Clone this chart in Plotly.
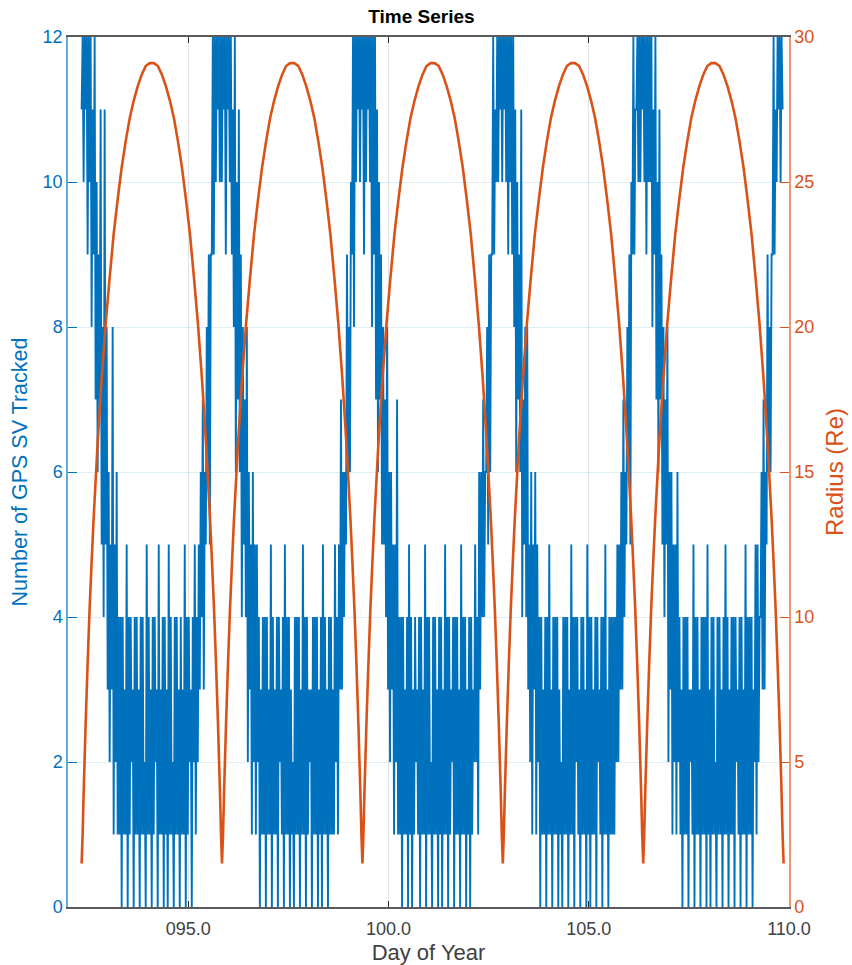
import plotly.graph_objects as go

# ---------------- data ----------------
# GPS SV count, sampled every 0.025 day from day 92.34 (one list per orbit, perigee to perigee)
gps_start_day = 92.34
gps_step_day = 0.025

gps_orbit1 = [11,12, 10,12, 11,12, 9,12,
              10,12, 8,11, 9,12,
              7,10, 6,9, 7,11,
              5,8, 4,11, 5,8,
              3,6, 2,5, 3,8, 1,5, 2,6, 1,4,
              1,4, 0,4, 1,3, 1,5, 0,4, 1,4, 2,3, 0,4, 1,4, 1,3,
              0,4, 1,4, 1,2, 0,5, 1,4, 1,3, 0,4, 1,4, 2,3, 0,5,
              1,3, 1,4, 0,4, 1,3, 0,5, 1,4, 1,2, 0,4, 1,4, 1,3,
              0,4, 1,3, 1,5, 0,4, 1,4, 2,3, 0,4,
              2,5, 1,4, 2,5,
              3,6, 4,7, 3,6,
              5,8, 6,9, 5,9,
              9,12, 9,12,
              10,12, 11,12, 10,12]
gps_orbit2 = [10,12, 11,12, 9,12, 11,12,
              10,12, 9,11, 8,12,
              6,10, 7,11, 6,9,
              4,8, 5,7, 4,8,
              2,6, 3,5, 1,6, 2,5, 1,5, 2,4,
              0,3, 1,4, 1,4, 0,4, 1,3, 1,5, 0,4, 1,3, 1,4, 0,4,
              2,3, 1,4, 0,5, 1,4, 1,4, 0,3, 1,2, 0,4, 1,4, 1,4,
              0,3, 1,5, 1,4, 0,4, 1,3, 2,3, 0,4, 1,4, 1,4, 0,3,
              1,4, 0,5, 1,4, 1,3, 0,4, 1,4, 1,3,
              1,5, 2,4, 1,5,
              3,7, 3,6, 4,6,
              5,9, 6,8, 6,10,
              9,12, 8,12,
              10,12, 11,12, 10,12]
gps_orbit3 = [11,12, 9,12, 10,12, 11,12,
              10,12, 8,12, 9,12,
              7,11, 6,10, 7,9,
              5,8, 5,7, 4,8,
              3,6, 2,6, 3,5, 1,5, 2,7, 1,4,
              1,4, 0,4, 1,3, 1,4, 0,5, 1,4, 0,3, 1,4, 2,3, 1,4,
              0,4, 1,3, 1,5, 0,4, 1,4, 1,2, 0,4, 1,4, 1,3, 0,4,
              1,4, 0,3, 1,5, 1,4, 0,4, 1,3, 2,4, 0,4, 1,4, 1,3,
              0,5, 1,4, 1,4, 0,3, 1,4, 0,4, 1,3,
              2,5, 2,4, 1,6,
              3,6, 4,7, 4,6,
              6,8, 5,9, 6,9,
              9,12, 9,11,
              10,12, 10,12, 11,12]
gps_orbit4 = [10,12, 11,12, 10,12, 9,12,
              10,12, 9,12, 8,11,
              6,10, 7,9, 6,11,
              4,7, 5,8, 4,8,
              3,5, 2,6, 1,5, 3,6, 1,5, 2,4,
              0,4, 1,3, 1,4, 0,4, 1,5, 1,3, 0,4, 1,4, 1,4, 0,3,
              1,2, 0,4, 1,4, 1,4, 0,3, 1,5, 1,4, 0,4, 2,4, 1,3,
              0,4, 1,4, 1,3, 0,5, 1,4, 0,4, 1,3, 1,4, 0,4, 2,3,
              1,4, 0,4, 1,5, 1,3, 0,4, 1,4, 1,4,
              1,4, 2,5, 2,5,
              3,6, 3,7, 4,6,
              5,8, 6,9, 5,10,
              9,12, 9,11,
              11,12, 10,12, 10,12]
gps_orbit5 = [11,12, 10,12, 9,12, 10,12,
              10,12, 8,11, 9,12,
              7,10, 6,11, 7,9,
              5,8, 4,7, 5,8,
              2,6, 3,6, 1,5, 2,5, 1,6, 2,4,
              1,3, 0,4, 1,4, 1,4, 0,3, 2,3, 1,5, 0,4, 1,4, 1,3,
              0,4, 1,4, 1,4, 0,5, 1,3, 0,4, 1,4, 1,2, 0,4, 1,4,
              1,3, 0,4, 1,5, 1,4, 0,3, 1,4, 1,4, 0,4, 2,3, 1,4,
              0,4, 1,3, 1,5, 0,4, 1,4, 1,4, 0,3,
              2,5, 1,5, 2,4,
              4,6, 3,7, 3,6,
              5,9, 6,8, 6,9,
              9,12, 9,11,
              10,12, 11,12, 10,12,
              11]

# Orbit radius (Re): perigee days, sample times within each orbit (days after perigee),
# and the radius read at those times for each orbit
perigee_days = [92.34, 95.845, 99.35, 102.855, 106.36]
orbit_phase_days = [0.0, 0.025, 0.05, 0.1, 0.15, 0.2, 0.25, 0.3, 0.4, 0.5, 0.6, 0.7, 0.8, 0.9,
                    1.0, 1.1, 1.2, 1.3, 1.4, 1.5, 1.6, 1.7, 1.7525,
                    1.805, 1.905, 2.005, 2.105, 2.205, 2.305, 2.405, 2.505, 2.605, 2.705, 2.805,
                    2.905, 3.005, 3.105, 3.205, 3.255, 3.305, 3.355, 3.405, 3.455, 3.48]
radius_orbit1 = [1.5, 2.5, 3.9, 6.3, 8.4, 10.3, 11.9, 13.4, 16.0, 18.2, 20.1, 21.7, 23.2, 24.4,
                 25.5, 26.4, 27.2, 27.8, 28.3, 28.7, 29.0, 29.1, 29.1,
                 29.1, 29.0, 28.7, 28.3, 27.8, 27.2, 26.4, 25.5, 24.4, 23.2, 21.7,
                 20.1, 18.2, 16.0, 13.4, 11.9, 10.3, 8.4, 6.3, 3.9, 2.5]
radius_orbit2 = [1.5, 2.5, 3.9, 6.3, 8.4, 10.3, 11.9, 13.4, 16.0, 18.2, 20.1, 21.7, 23.2, 24.4,
                 25.5, 26.4, 27.2, 27.8, 28.3, 28.7, 29.0, 29.1, 29.1,
                 29.1, 29.0, 28.7, 28.3, 27.8, 27.2, 26.4, 25.5, 24.4, 23.2, 21.7,
                 20.1, 18.2, 16.0, 13.4, 11.9, 10.3, 8.4, 6.3, 3.9, 2.5]
radius_orbit3 = [1.5, 2.5, 3.9, 6.3, 8.4, 10.3, 11.9, 13.4, 16.0, 18.2, 20.1, 21.7, 23.2, 24.4,
                 25.5, 26.4, 27.2, 27.8, 28.3, 28.7, 29.0, 29.1, 29.1,
                 29.1, 29.0, 28.7, 28.3, 27.8, 27.2, 26.4, 25.5, 24.4, 23.2, 21.7,
                 20.1, 18.2, 16.0, 13.4, 11.9, 10.3, 8.4, 6.3, 3.9, 2.5]
radius_orbit4 = [1.5, 2.5, 3.9, 6.3, 8.4, 10.3, 11.9, 13.4, 16.0, 18.2, 20.1, 21.7, 23.2, 24.4,
                 25.5, 26.4, 27.2, 27.8, 28.3, 28.7, 29.0, 29.1, 29.1,
                 29.1, 29.0, 28.7, 28.3, 27.8, 27.2, 26.4, 25.5, 24.4, 23.2, 21.7,
                 20.1, 18.2, 16.0, 13.4, 11.9, 10.3, 8.4, 6.3, 3.9, 2.5]
radius_orbit5 = [1.5, 2.5, 3.9, 6.3, 8.4, 10.3, 11.9, 13.4, 16.0, 18.2, 20.1, 21.7, 23.2, 24.4,
                 25.5, 26.4, 27.2, 27.8, 28.3, 28.7, 29.0, 29.1, 29.1,
                 29.1, 29.0, 28.7, 28.3, 27.8, 27.2, 26.4, 25.5, 24.4, 23.2, 21.7,
                 20.1, 18.2, 16.0, 13.4, 11.9, 10.3, 8.4, 6.3, 3.9, 2.5]
final_day = 109.865
final_radius = 1.5

x_tick_vals = [95, 100, 105, 110]
x_tick_text = ["095.0", "100.0", "105.0", "110.0"]
left_tick_vals = [0, 2, 4, 6, 8, 10, 12]
right_tick_vals = [0, 5, 10, 15, 20, 25, 30]

# ---------------- build ----------------
gps_count = gps_orbit1 + gps_orbit2 + gps_orbit3 + gps_orbit4 + gps_orbit5
gps_day = [gps_start_day + i * gps_step_day for i in range(len(gps_count))]

radius_lists = [radius_orbit1, radius_orbit2, radius_orbit3, radius_orbit4, radius_orbit5]
radius_day, radius_re = [], []
for p, rr in zip(perigee_days, radius_lists):
    radius_day += [p + ph for ph in orbit_phase_days]
    radius_re += rr
radius_day.append(final_day)
radius_re.append(final_radius)

BLUE = "#0072BD"
ORANGE = "#D95319"
DARK = "#262626"
FONT = "Liberation Sans, Arial, Helvetica, sans-serif"

fig = go.Figure()
fig.add_trace(go.Scatter(x=gps_day, y=gps_count, mode="lines",
                         line=dict(color=BLUE, width=1.9, simplify=False), yaxis="y",
                         showlegend=False, hoverinfo="skip"))
fig.add_trace(go.Scatter(x=radius_day, y=radius_re, mode="lines",
                         line=dict(color=ORANGE, width=2.6, simplify=False), yaxis="y2",
                         showlegend=False, hoverinfo="skip"))

fig.update_layout(
    width=852, height=965,
    margin=dict(l=68, r=63, t=37, b=58, pad=0, autoexpand=False),
    paper_bgcolor="white", plot_bgcolor="white",
    font=dict(family=FONT, size=18, color=DARK),
    title=dict(text="<b>Time Series</b>", x=(421.5 - 68) / 721, xref="paper",
               y=1 - 16 / 965, yref="container", yanchor="middle", xanchor="center",
               font=dict(family=FONT, size=19, color="#000000")),
    xaxis=dict(range=[92, 110], tickvals=x_tick_vals, ticktext=x_tick_text, automargin=False,
               ticks="inside", ticklen=6, tickwidth=1, tickcolor=DARK, ticklabelstandoff=5,
               showline=True, linecolor="#5a5a5a", linewidth=1.5, mirror="ticks",
               showgrid=True, gridcolor="rgba(38,38,38,0.13)", gridwidth=1,
               zeroline=False, tickfont=dict(size=18, color="#404040"),
               title=dict(text="Day of Year", standoff=6,
                          font=dict(size=22, color="#404040"))),
    yaxis=dict(range=[0, 12], tickvals=left_tick_vals, automargin=False,
               ticks="inside", ticklen=9, tickwidth=1, tickcolor=BLUE,
               showline=True, linecolor="rgba(0,114,189,0.6)", linewidth=1.5, mirror=False,
               showgrid=True, gridcolor="rgba(0,114,189,0.13)", gridwidth=1,
               zeroline=False, tickfont=dict(size=18, color=BLUE),
               title=dict(text="Number of GPS SV Tracked", standoff=9,
                          font=dict(size=21.5, color=BLUE))),
    yaxis2=dict(range=[0, 30], tickvals=right_tick_vals, overlaying="y", side="right",
                automargin=False,
                ticks="inside", ticklen=9, tickwidth=1, tickcolor=ORANGE,
                showline=True, linecolor="rgba(217,83,25,0.6)", linewidth=1.5,
                showgrid=False, zeroline=False, tickfont=dict(size=18, color=ORANGE),
                title=dict(text="Radius (Re)", standoff=13,
                           font=dict(size=24, color=ORANGE))),
)

fig.write_html("out.html", config={"displayModeBar": False})
